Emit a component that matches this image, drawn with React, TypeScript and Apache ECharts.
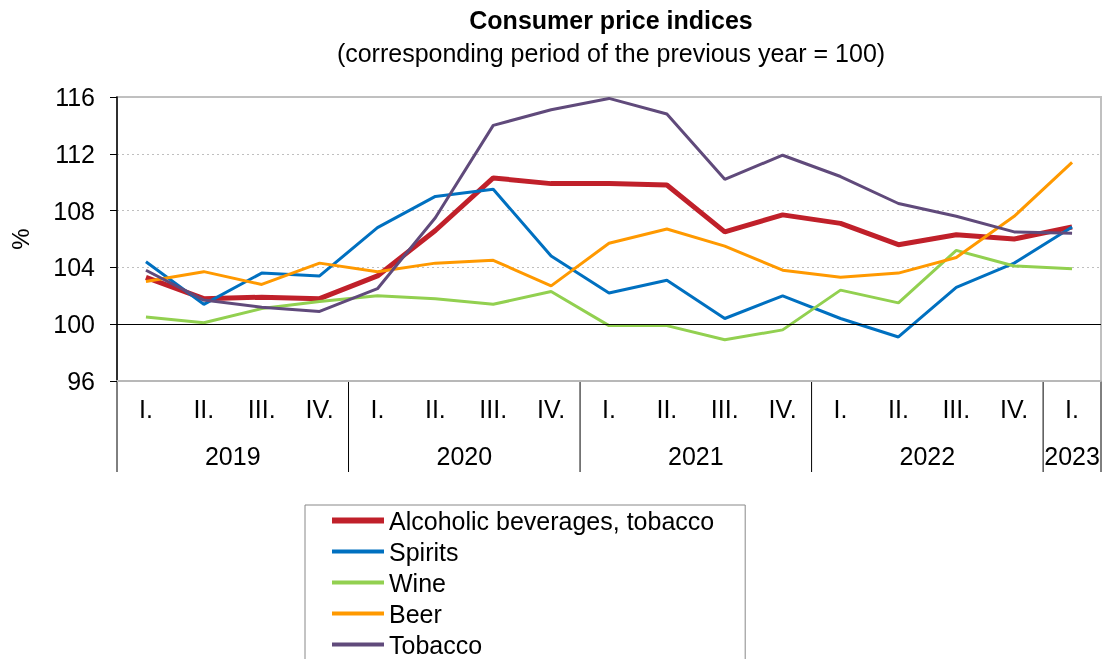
import React, { useEffect, useRef } from "react";
import * as echarts from "echarts";

const quarters = ["I.", "II.", "III.", "IV.", "I.", "II.", "III.", "IV.", "I.", "II.", "III.", "IV.", "I.", "II.", "III.", "IV.", "I."];
const years = ["2019", "2020", "2021", "2022", "2023"];
const yearSpans = [4, 4, 4, 4, 1];

const alcoholic = [103.3, 101.8, 101.9, 101.8, 103.4, 106.6, 110.3, 109.9, 109.9, 109.8, 106.5, 107.7, 107.1, 105.6, 106.3, 106.0, 106.85];
const spirits = [104.4, 101.4, 103.6, 103.4, 106.8, 109.0, 109.5, 104.8, 102.2, 103.1, 100.4, 102.0, 100.4, 99.1, 102.6, 104.3, 106.85];
const wine = [100.5, 100.1, 101.1, 101.6, 102.0, 101.8, 101.4, 102.3, 99.9, 99.9, 98.9, 99.6, 102.4, 101.5, 105.2, 104.1, 103.9];
const beer = [103.0, 103.7, 102.8, 104.3, 103.7, 104.3, 104.5, 102.7, 105.7, 106.7, 105.5, 103.8, 103.3, 103.6, 104.7, 107.6, 111.4];
const tobacco = [103.8, 101.7, 101.2, 100.9, 102.5, 107.5, 114.0, 115.1, 115.9, 114.8, 110.2, 111.9, 110.4, 108.5, 107.6, 106.5, 106.4];

const seriesNames = ["Alcoholic beverages, tobacco", "Spirits", "Wine", "Beer", "Tobacco"];
const seriesColors = ["#C0202A", "#0070C0", "#92D050", "#FF9900", "#604A7B"];
const seriesWidths = [5, 3, 3, 3, 3];
const seriesData = [alcoholic, spirits, wine, beer, tobacco];

const yTicks = { min: 96, max: 116, interval: 4 };

const FONT = "Liberation Sans, Arial, sans-serif";

export default function App() {
  const ref = useRef<HTMLDivElement>(null);
  useEffect(() => {
    if (!ref.current) return;
    const chart = echarts.init(ref.current, null, { renderer: "svg" });
    const series: any[] = seriesNames.map((name, i) => ({
      name,
      type: "line",
      data: seriesData[i],
      symbol: "none",
      showSymbol: false,
      lineStyle: { color: seriesColors[i], width: seriesWidths[i] },
      itemStyle: { color: seriesColors[i] },
      emphasis: { disabled: true },
    }));
    series[0].markLine = {
      silent: true,
      symbol: "none",
      label: { show: false },
      lineStyle: { color: "#000", width: 1.2, type: "solid" },
      data: [{ yAxis: 100 }],
    };
    chart.setOption({
      animation: false,
      textStyle: { fontFamily: FONT },
      title: [
        {
          text: "Consumer price indices",
          left: 611,
          top: 7,
          textAlign: "center",
          padding: 0,
          textStyle: { fontFamily: FONT, fontSize: 25, fontWeight: "bold", color: "#000" },
        },
        {
          text: "(corresponding period of the previous year = 100)",
          left: 611,
          top: 40,
          textAlign: "center",
          padding: 0,
          textStyle: { fontFamily: FONT, fontSize: 25, fontWeight: "normal", color: "#000" },
        },
      ],
      grid: { left: 115, right: 3, top: 97, bottom: 278, show: true, borderColor: "#c0c0c0", borderWidth: 2, backgroundColor: "transparent" },
      legend: {
        orient: "vertical",
        left: 305,
        top: 505,
        height: 180,
        itemWidth: 52,
        itemHeight: 14,
        itemGap: 6,
        padding: [3, 31, 12, 24],
        borderColor: "#888",
        borderWidth: 1,
        itemStyle: { opacity: 0 },
        textStyle: { fontFamily: FONT, fontSize: 25, color: "#000" },
        data: seriesNames.map((name, i) => ({
          name,
          lineStyle: { color: seriesColors[i], width: seriesWidths[i] + 1 },
          itemStyle: { opacity: 0 },
        })),
      },
      xAxis: {
        type: "category",
        data: quarters,
        boundaryGap: true,
        axisLine: { show: true, lineStyle: { color: "#b8b8b8", width: 2 } },
        axisTick: { show: false },
        axisLabel: { interval: 0, margin: 15, fontFamily: FONT, fontSize: 25, color: "#000" },
        splitLine: { show: false },
      },
      yAxis: {
        type: "value",
        min: yTicks.min,
        max: yTicks.max,
        interval: yTicks.interval,
        name: "%",
        nameLocation: "middle",
        nameRotate: 90,
        nameGap: 85,
        nameTextStyle: { fontFamily: FONT, fontSize: 24, color: "#000" },
        axisLine: { show: true, lineStyle: { color: "#000", width: 1.5 } },
        axisTick: { show: true, length: 7, lineStyle: { color: "#000", width: 1 } },
        axisLabel: { margin: 22, fontFamily: FONT, fontSize: 25, color: "#000" },
        splitLine: { show: true, lineStyle: { color: "#bfbfbf", type: [2, 3], width: 1 } },
      },
      series,
    });

    const p0 = chart.convertToPixel({ xAxisIndex: 0 }, 0) as number;
    const p1 = chart.convertToPixel({ xAxisIndex: 0 }, 1) as number;
    const step = p1 - p0;
    const yBottom = chart.convertToPixel({ yAxisIndex: 0 }, yTicks.min) as number;
    const edge = (i: number) => p0 - step / 2 + i * step;
    const elements: any[] = [
      {
        type: "line",
        shape: { x1: edge(0), y1: yBottom, x2: edge(0), y2: yBottom + 91 },
        style: { stroke: "#000", lineWidth: 1 },
        silent: true,
      },
    ];
    let start = 0;
    years.forEach((y, k) => {
      const end = start + yearSpans[k];
      const cx = (edge(start) + edge(end)) / 2;
      elements.push({
        type: "line",
        shape: { x1: edge(end), y1: yBottom, x2: edge(end), y2: yBottom + 91 },
        style: { stroke: "#000", lineWidth: 1 },
        silent: true,
      });
      elements.push({
        type: "text",
        x: cx,
        y: yBottom + 75,
        style: { text: y, fontFamily: FONT, fontSize: 25, fill: "#000", align: "center", verticalAlign: "middle" },
        silent: true,
      });
      start = end;
    });
    chart.setOption({ graphic: elements });

    return () => chart.dispose();
  }, []);
  return <div ref={ref} style={{ position: "fixed", left: 0, top: 0, width: 1104, height: 659 }} />;
}
